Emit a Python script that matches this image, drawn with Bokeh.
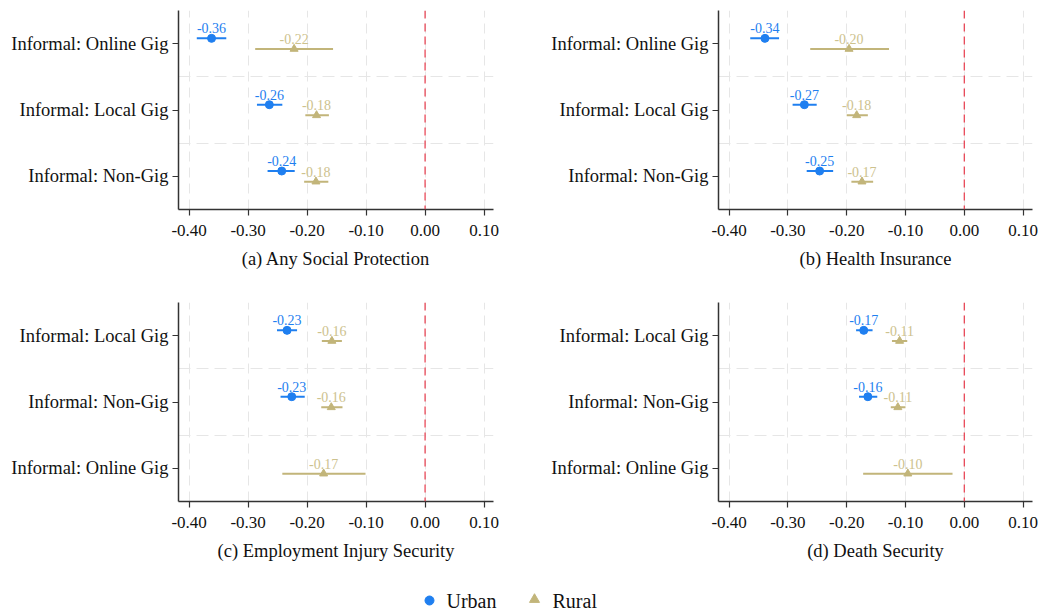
from bokeh.plotting import figure
from bokeh.layouts import column, row
from bokeh.models import FixedTicker, Span, ColumnDataSource
from bokeh.core.properties import value
from bokeh.embed import file_html
from bokeh.resources import INLINE

# ---- data ----
titles = ["(a) Any Social Protection", "(b) Health Insurance",
          "(c) Employment Injury Security", "(d) Death Security"]
cats_ab = ["Informal: Online Gig", "Informal: Local Gig", "Informal: Non-Gig"]
cats_cd = ["Informal: Local Gig", "Informal: Non-Gig", "Informal: Online Gig"]

# panel a
a_urban = [-0.362, -0.264, -0.243]
a_urban_lo = [-0.387, -0.285, -0.267]
a_urban_hi = [-0.337, -0.242, -0.221]
a_rural = [-0.222, -0.184, -0.185]
a_rural_lo = [-0.288, -0.203, -0.205]
a_rural_hi = [-0.156, -0.163, -0.164]
# panel b
b_urban = [-0.339, -0.272, -0.246]
b_urban_lo = [-0.364, -0.292, -0.268]
b_urban_hi = [-0.315, -0.251, -0.223]
b_rural = [-0.196, -0.183, -0.174]
b_rural_lo = [-0.262, -0.200, -0.192]
b_rural_hi = [-0.128, -0.164, -0.155]
# panel c (urban online gig not estimated)
c_urban = [-0.234, -0.226, None]
c_urban_lo = [-0.251, -0.245, None]
c_urban_hi = [-0.217, -0.204, None]
c_rural = [-0.158, -0.159, -0.172]
c_rural_lo = [-0.175, -0.176, -0.242]
c_rural_hi = [-0.141, -0.140, -0.101]
# panel d
d_urban = [-0.171, -0.164, None]
d_urban_lo = [-0.184, -0.179, None]
d_urban_hi = [-0.156, -0.148, None]
d_rural = [-0.110, -0.113, -0.096]
d_rural_lo = [-0.123, -0.125, -0.172]
d_rural_hi = [-0.097, -0.100, -0.020]

x_ticks = [-0.4, -0.3, -0.2, -0.1, 0.0, 0.1]
x_tick_labels = ["-0.40", "-0.30", "-0.20", "-0.10", "0.00", "0.10"]
legend_labels = ["Urban", "Rural"]

URBAN = "#1f7ff0"
RURAL = "#c2b57a"
RURAL_TXT = "#cdc28e"
FONT = "Liberation Serif"


def make_panel(title, cats, u, ulo, uhi, r, rlo, rhi, width, height,
               bl, br, bt, bb):
    n = len(cats)
    ypos = [n - i for i in range(n)]  # top category first
    p = figure(width=width, height=height, x_range=(-0.418, 0.116),
               y_range=(0.5, n + 0.5), output_backend="svg",
               toolbar_location=None, min_border_left=bl, min_border_right=br,
               min_border_top=bt, min_border_bottom=bb)
    p.outline_line_color = None
    p.background_fill_color = "white"
    p.border_fill_color = "white"

    # axes
    p.xaxis.ticker = FixedTicker(ticks=x_ticks)
    p.xaxis.major_label_overrides = {t: s for t, s in zip(x_ticks, x_tick_labels)}
    p.yaxis.ticker = FixedTicker(ticks=ypos)
    p.yaxis.major_label_overrides = {y: c for y, c in zip(ypos, cats)}
    for ax in (p.xaxis[0], p.yaxis[0]):
        ax.axis_line_color = "#333333"
        ax.axis_line_width = 1.5
        ax.major_tick_line_color = "#333333"
        ax.major_tick_line_width = 1.2
        ax.major_tick_out = 6
        ax.major_tick_in = 0
        ax.minor_tick_line_color = None
        ax.major_label_text_font = FONT
        ax.major_label_text_color = "#111111"
    p.yaxis.major_label_text_font_size = "18.5px"
    p.yaxis.major_label_standoff = 4
    p.xaxis.major_label_text_font_size = "17px"
    p.xaxis.major_label_standoff = 9
    p.xaxis.axis_label = title
    p.xaxis.axis_label_text_font = FONT
    p.xaxis.axis_label_text_font_size = "18.5px"
    p.xaxis.axis_label_text_font_style = "normal"
    p.xaxis.axis_label_text_color = "#111111"
    p.xaxis.axis_label_standoff = 10

    # grids
    p.xgrid.ticker = FixedTicker(ticks=x_ticks)
    p.xgrid.grid_line_color = "#e6e6e6"
    p.xgrid.grid_line_dash = "10 6"
    p.xgrid.grid_line_width = 1
    p.ygrid.ticker = FixedTicker(ticks=[y + 0.5 for y in ypos[1:]])
    p.ygrid.grid_line_color = "#e6e6e6"
    p.ygrid.grid_line_dash = "12 6"
    p.ygrid.grid_line_width = 1.2

    p.add_layout(Span(location=0, dimension="height", line_color="#e8394a",
                      line_dash="8 5", line_width=1.2))

    off = 0.08
    for vals, lo, hi, sgn, col, tcol, marker in (
            (u, ulo, uhi, 1, URBAN, URBAN, "circle"),
            (r, rlo, rhi, -1, RURAL, RURAL_TXT, "triangle")):
        xs, y0, x0s, x1s, labs = [], [], [], [], []
        for yv, v, a, b in zip(ypos, vals, lo, hi):
            if v is None:
                continue
            xs.append(v)
            y0.append(yv + sgn * off)
            x0s.append(a)
            x1s.append(b)
            labs.append(f"{v:.2f}")
        src = ColumnDataSource(dict(x=xs, y=y0, x0=x0s, x1=x1s, lab=labs))
        p.segment(x0="x0", y0="y", x1="x1", y1="y", source=src,
                  line_color=col, line_width=2)
        p.scatter(x="x", y="y", source=src, marker=marker, size=8,
                  fill_color=col, line_color=col)
        p.text(x="x", y="y", text="lab", source=src, text_align="center",
               text_baseline="middle", y_offset=-10, text_color=tcol,
               text_font=value(FONT), text_font_size="14px")
    return p


p1 = make_panel(titles[0], cats_ab, a_urban, a_urban_lo, a_urban_hi,
                a_rural, a_rural_lo, a_rural_hi, 524, 292, 178, 31, 10, 83)
p2 = make_panel(titles[1], cats_ab, b_urban, b_urban_lo, b_urban_hi,
                b_rural, b_rural_lo, b_rural_hi, 520, 292, 194, 12, 10, 83)
p3 = make_panel(titles[2], cats_cd, c_urban, c_urban_lo, c_urban_hi,
                c_rural, c_rural_lo, c_rural_hi, 524, 283, 178, 31, 10, 74)
p4 = make_panel(titles[3], cats_cd, d_urban, d_urban_lo, d_urban_hi,
                d_rural, d_rural_lo, d_rural_hi, 520, 283, 194, 12, 10, 74)

# legend strip
leg = figure(width=1044, height=37, x_range=(0, 1044), y_range=(0, 37),
             output_backend="svg", toolbar_location=None,
             min_border=0)
leg.axis.visible = False
leg.grid.visible = False
leg.outline_line_color = None
leg.scatter(x=[429], y=[12], marker="circle", size=9, fill_color=URBAN,
            line_color=URBAN)
leg.scatter(x=[534], y=[13], marker="triangle", size=10, fill_color=RURAL,
            line_color=RURAL)
leg.text(x=[446, 552], y=[12, 12], text=legend_labels,
         text_baseline="middle", text_align="left", text_color="#111111",
         text_font=value(FONT), text_font_size="20px")

layout = column(row(p1, p2), row(p3, p4), leg)
open("out.html", "w").write(file_html(layout, INLINE))
